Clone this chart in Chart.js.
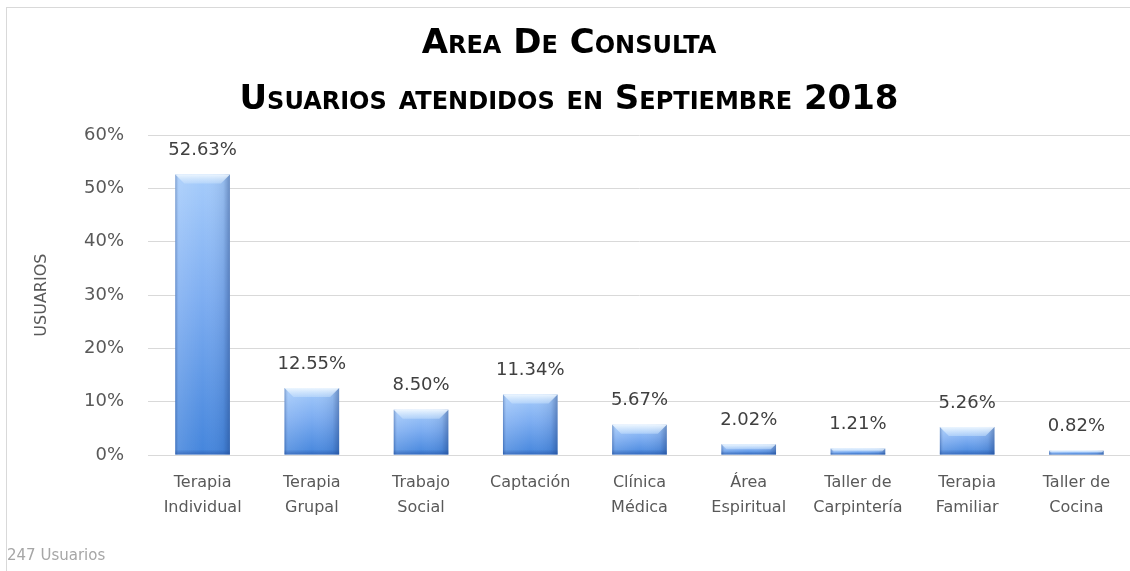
<!DOCTYPE html>
<html>
<head>
<meta charset="utf-8">
<script src="https://cdn.jsdelivr.net/npm/chart.js@4/dist/chart.umd.min.js"></script>
<style>
  html, body { margin: 0; padding: 0; background: #fff; }
  #wrap {
    position: absolute; left: 6px; top: 7px;
    width: 1124px; height: 564px;
    border-left: 1px solid #d9d9d9; border-top: 1px solid #d9d9d9;
  }
  canvas { display: block; }
</style>
</head>
<body>
<div id="wrap"><canvas id="consulta-chart" width="1124" height="564"></canvas></div>
<script>
var categorias = [
    ['Terapia', 'Individual'], ['Terapia', 'Grupal'], ['Trabajo', 'Social'], 'Captación',
    ['Clínica', 'Médica'], ['Área', 'Espiritual'], ['Taller de', 'Carpintería'],
    ['Terapia', 'Familiar'], ['Taller de', 'Cocina']
];
var porcentajes = [52.63, 12.55, 8.50, 11.34, 5.67, 2.02, 1.21, 5.26, 0.82];
var tituloLineas = ['Area De Consulta', 'Usuarios atendidos en Septiembre 2018'];
var pieTexto = '247 Usuarios';
var tickFont = "'DejaVu Sans', sans-serif";
var titleFont = "'DejaVu Sans', sans-serif";

function barGradient(context) {
    const chart = context.chart;
    const y = chart.scales.y;
    if (!y || context.raw === undefined) return '#6fa2ea';
    const top = y.getPixelForValue(context.raw);
    const base = y.getPixelForValue(0);
    if (!isFinite(top) || !isFinite(base) || base - top < 1) return '#6fa2ea';
    const g = chart.ctx.createLinearGradient(0, top, 0, base);
    g.addColorStop(0, '#a6ccfb');
    g.addColorStop(0.45, '#7dadf1');
    g.addColorStop(1, '#4485dc');
    return g;
}

// valores encima de cada barra + sombreado/bisel
const valueLabels = {
    id: 'valueLabels',
    afterDatasetsDraw(chart) {
        const ctx = chart.ctx;
        const meta = chart.getDatasetMeta(0);
        ctx.save();
        meta.data.forEach((bar, i) => {
            const w = bar.width;
            const h = bar.base - bar.y;
            const left = bar.x - w / 2;

            const side = ctx.createLinearGradient(left, 0, left + w, 0);
            side.addColorStop(0, 'rgba(30,60,120,0.35)');
            side.addColorStop(0.07, 'rgba(255,255,255,0.12)');
            side.addColorStop(0.5, 'rgba(255,255,255,0)');
            side.addColorStop(0.88, 'rgba(20,50,110,0.1)');
            side.addColorStop(1, 'rgba(20,50,110,0.4)');
            ctx.fillStyle = side;
            ctx.fillRect(left, bar.y, w, h);

            const b = Math.min(9, h / 2);
            const top = ctx.createLinearGradient(0, bar.y, 0, bar.y + b);
            top.addColorStop(0, 'rgba(240,248,255,0.95)');
            top.addColorStop(1, 'rgba(200,225,252,0.5)');
            ctx.fillStyle = top;
            ctx.beginPath();
            ctx.moveTo(left, bar.y);
            ctx.lineTo(left + w, bar.y);
            ctx.lineTo(left + w - b, bar.y + b);
            ctx.lineTo(left + b, bar.y + b);
            ctx.closePath();
            ctx.fill();

            const bb = Math.min(5, h / 3);
            const bot = ctx.createLinearGradient(0, bar.base - bb, 0, bar.base);
            bot.addColorStop(0, 'rgba(30,70,150,0)');
            bot.addColorStop(1, 'rgba(30,70,150,0.45)');
            ctx.fillStyle = bot;
            ctx.fillRect(left, bar.base - bb, w, bb);

            ctx.fillStyle = '#404040';
            ctx.font = "18px " + tickFont;
            ctx.textAlign = 'center';
            ctx.textBaseline = 'middle';
            ctx.fillText(porcentajes[i].toFixed(2) + '%', bar.x, bar.y - 24);
        });
        ctx.restore();
    }
};

const ctx = document.getElementById('consulta-chart').getContext('2d');
const consultaChart = new Chart(ctx, {
    type: 'bar',
    data: {
        labels: categorias,
        datasets: [{
            data: porcentajes,
            backgroundColor: barGradient,
            borderWidth: 0,
            barPercentage: 0.5,
            categoryPercentage: 1.0
        }]
    },
    options: {
        responsive: false,
        animation: false,
        layout: { padding: { left: 0, right: 0, top: 0, bottom: 7 } },
        plugins: {
            legend: { display: false },
            tooltip: { enabled: false },
            title: {
                display: true,
                text: tituloLineas,
                color: '#000000',
                font: { family: titleFont, size: 34, weight: 'small-caps bold', lineHeight: 1.65 },
                padding: { top: 8, bottom: 7 }
            },
            subtitle: {
                display: true,
                text: pieTexto,
                position: 'bottom',
                align: 'start',
                color: '#a6a6a6',
                font: { family: tickFont, size: 15 },
                padding: { top: 0, bottom: 0 }
            }
        },
        scales: {
            x: {
                grid: { display: false, drawTicks: false },
                border: { color: '#d9d9d9' },
                ticks: {
                    color: '#595959', padding: 15, maxRotation: 0, autoSkip: false,
                    font: { family: tickFont, size: 16, lineHeight: 1.56 }
                },
                afterFit(scale) { scale.height = 92; }
            },
            y: {
                min: 0, max: 60,
                ticks: {
                    stepSize: 10, color: '#595959', padding: 24,
                    font: { family: tickFont, size: 18 },
                    callback: v => v + '%'
                },
                grid: { color: '#d9d9d9', drawTicks: false },
                border: { display: false },
                title: {
                    display: true, text: 'USUARIOS', color: '#595959',
                    font: { family: tickFont, size: 16 },
                    padding: { top: 25, bottom: 0 }
                },
                afterFit(scale) { scale.width = 141; }
            }
        }
    },
    plugins: [valueLabels]
});
</script>
</body>
</html>
